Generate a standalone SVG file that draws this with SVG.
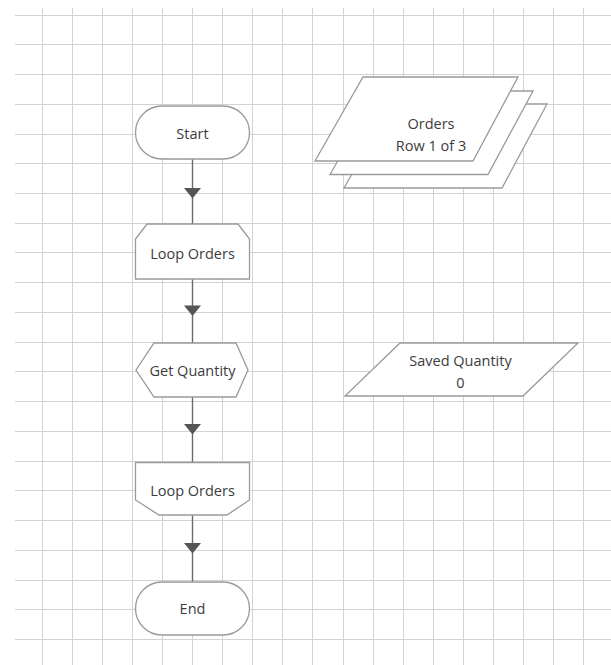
<svg xmlns="http://www.w3.org/2000/svg" width="611" height="665" viewBox="0 0 611 665">
<style>
.grid{stroke:#d2d2d2;stroke-width:1;fill:none}
.shape{fill:#ffffff;stroke:#9a9a9a;stroke-width:1.3}
.conn{stroke:#6a6a6a;stroke-width:1.4;fill:none}
.head{fill:#555555}
.lbl{font-family:"Open Sans","Noto Sans","DejaVu Sans",sans-serif;font-size:14.5px;fill:#3c3c3c;text-anchor:middle;dominant-baseline:central}
</style>
<rect width="611" height="665" fill="#ffffff"/>
<g id="grid" class="grid">
<path d="M42.5,8V665M72.5,8V665M102.5,8V665M132.5,8V665M162.5,8V665M192.5,8V665M222.5,8V665M252.5,8V665M282.5,8V665M312.5,8V665M343.5,8V665M373.5,8V665M403.5,8V665M433.5,8V665M463.5,8V665M493.5,8V665M523.5,8V665M553.5,8V665M583.5,8V665"/>
<path d="M15,15.5H611M15,44.5H611M15,74.5H611M15,104.5H611M15,134.5H611M15,163.5H611M15,193.5H611M15,223.5H611M15,252.5H611M15,282.5H611M15,312.5H611M15,342.5H611M15,371.5H611M15,401.5H611M15,431.5H611M15,461.5H611M15,490.5H611M15,520.5H611M15,550.5H611M15,580.5H611M15,609.5H611M15,639.5H611"/>
</g>
<g id="connectors">
<path class="conn" d="M192.5,159V224"/>
<path class="conn" d="M192.5,279V343"/>
<path class="conn" d="M192.5,397V462"/>
<path class="conn" d="M192.5,515V582"/>
<path class="head" d="M184,188H201L192.5,198.5Z"/>
<path class="head" d="M184,305.5H201L192.5,316Z"/>
<path class="head" d="M184,424H201L192.5,434.5Z"/>
<path class="head" d="M184,543H201L192.5,553.5Z"/>
</g>
<g id="start">
<rect class="shape" x="135.5" y="106" width="114" height="53" rx="26.5" ry="26.5"/>
<text class="lbl" x="192.5" y="133">Start</text>
</g>
<g id="loop-orders-start">
<path class="shape" d="M147,224H238L249.5,239V279H135.5V239Z"/>
<text class="lbl" x="192.5" y="253">Loop Orders</text>
</g>
<g id="get-quantity">
<path class="shape" d="M154,343H236L248,370L236,397H154L136,370Z"/>
<text class="lbl" x="192.5" y="370">Get Quantity</text>
</g>
<g id="loop-orders-end">
<path class="shape" d="M135.5,462.5H249.5V500L227,515H159L135.5,500Z"/>
<text class="lbl" x="192.5" y="490">Loop Orders</text>
</g>
<g id="end">
<rect class="shape" x="135.5" y="582" width="114" height="53" rx="26.5" ry="26.5"/>
<text class="lbl" x="192.5" y="608">End</text>
</g>
<g id="orders">
<path class="shape" d="M392,104H547L502,188H344Z"/>
<path class="shape" d="M378,91H533L488,174.5H330Z"/>
<path class="shape" d="M363,77H518L473,161H315Z"/>
<text class="lbl" x="431" y="123">Orders</text>
<text class="lbl" x="431" y="145">Row 1 of 3</text>
</g>
<g id="saved-quantity">
<path class="shape" d="M400,343H578L523,396H345Z"/>
<text class="lbl" x="460.5" y="360">Saved Quantity</text>
<text class="lbl" x="460.5" y="382">0</text>
</g>
</svg>
